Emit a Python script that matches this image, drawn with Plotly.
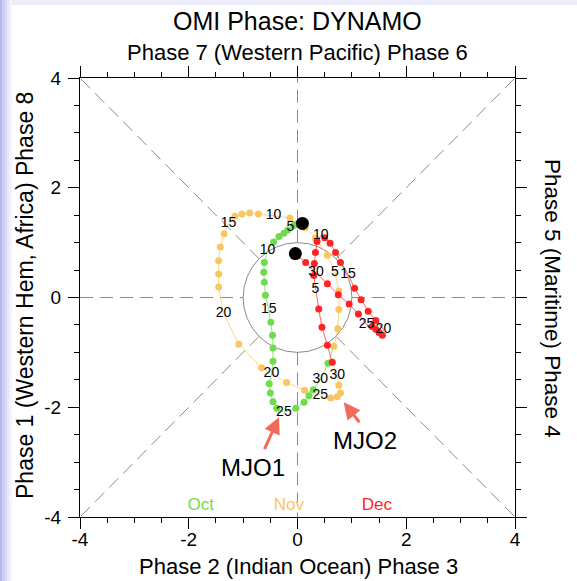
import plotly.graph_objects as go

# ---------------- data ----------------
oct_x = [0.10, 0.04, -0.02, -0.07, -0.13, -0.18, -0.25, -0.34, -0.44, -0.55,
         -0.61, -0.62, -0.61, -0.59, -0.53, -0.49, -0.46, -0.45, -0.45, -0.48,
         -0.52, -0.50, -0.45, -0.38, -0.25, -0.03, 0.12, 0.21, 0.29, 0.42, 0.56]
oct_y = [1.36, 1.35, 1.33, 1.31, 1.28, 1.23, 1.17, 1.11, 1.01, 0.86,
         0.64, 0.46, 0.28, 0.04, -0.21, -0.45, -0.69, -0.92, -1.16, -1.39,
         -1.57, -1.74, -1.90, -2.02, -2.09, -2.02, -1.91, -1.79, -1.68, -1.50, -1.20]
oct_lbl = ["", "", "", "", "5", "", "", "", "", "10",
           "", "", "", "", "15", "", "", "", "", "20",
           "", "", "", "", "25", "", "", "", "", "30", ""]

nov_x = [0.67, 0.74, 0.76, 0.76, 0.69, 0.55, 0.33, 0.14, -0.14, -0.44,
         -0.72, -0.88, -1.02, -1.15, -1.27, -1.35, -1.42, -1.45, -1.45, -1.45,
         -1.36, -1.08, -0.66, -0.20, 0.13, 0.42, 0.61, 0.73, 0.79, 0.76, 0.73]
nov_y = [-0.89, -0.57, -0.22, 0.12, 0.45, 0.77, 1.08, 1.27, 1.45, 1.49,
         1.52, 1.54, 1.52, 1.48, 1.35, 1.16, 0.92, 0.67, 0.43, 0.19,
         -0.30, -0.85, -1.28, -1.55, -1.69, -1.78, -1.83, -1.81, -1.74, -1.60, -1.42]
nov_lbl = ["", "", "", "", "5", "", "", "", "", "10",
           "", "", "", "", "15", "", "", "", "", "",
           "20", "", "", "", "", "25", "", "", "", "", "30"]

dec_x = [0.64, 0.55, 0.45, 0.39, 0.33, 0.30, 0.31, 0.33, 0.36, 0.43,
         0.50, 0.60, 0.70, 0.79, 0.93, 1.05, 1.17, 1.30, 1.44, 1.58,
         1.56, 1.50, 1.44, 1.37, 1.27, 1.12, 0.95, 0.75, 0.55, 0.34, 0.15]
dec_y = [-1.18, -0.87, -0.54, -0.21, 0.15, 0.40, 0.62, 0.82, 1.02, 1.13,
         1.09, 0.99, 0.82, 0.64, 0.42, 0.17, -0.04, -0.25, -0.42, -0.58,
         -0.69, -0.64, -0.58, -0.53, -0.49, -0.30, -0.12, 0.05, 0.25, 0.46, 0.64]
dec_lbl = ["", "", "", "", "5", "", "", "", "", "10",
           "", "", "", "", "15", "", "", "", "", "20",
           "", "", "", "", "25", "", "", "", "", "30", ""]

start_xy = (0.09, 1.35)
end_xy = (-0.04, 0.80)

months = ["Oct", "Nov", "Dec"]
month_colors = ["#6EDC4E", "#FAC660", "#FF2424"]
line_colors = ["rgba(110,220,78,0.75)", "rgba(250,198,96,0.75)", "rgba(255,36,36,0.7)"]
month_label_x = [-1.78, -0.16, 1.46]
month_label_y = -3.79

tick_vals = [-4, -2, 0, 2, 4]
tick_text = ["-4", "-2", "0", "2", "4"]

FONT = "Liberation Sans, Arial, Helvetica, sans-serif"

# ---------------- figure ----------------
fig = go.Figure()

series = [(oct_x, oct_y, oct_lbl), (nov_x, nov_y, nov_lbl), (dec_x, dec_y, dec_lbl)]
nxt = [(nov_x[0], nov_y[0]), (dec_x[0], dec_y[0]), end_xy]

# lines (each month connects to the first point of the next)
for i, (xs, ys, lb) in enumerate(series):
    fig.add_trace(go.Scatter(x=xs + [nxt[i][0]], y=ys + [nxt[i][1]], mode="lines",
                             line=dict(color=line_colors[i], width=1),
                             hoverinfo="skip", showlegend=False))
# markers (non-labelled days)
for i, (xs, ys, lb) in enumerate(series):
    mx = [x for x, l in zip(xs, lb) if l == ""]
    my = [y for y, l in zip(ys, lb) if l == ""]
    fig.add_trace(go.Scatter(x=mx, y=my, mode="markers",
                             marker=dict(color=month_colors[i], size=7, line=dict(width=0)),
                             hoverinfo="skip", showlegend=False))
# day labels
for i, (xs, ys, lb) in enumerate(series):
    tx = [x for x, l in zip(xs, lb) if l != ""]
    ty = [y for y, l in zip(ys, lb) if l != ""]
    tt = [l for l in lb if l != ""]
    fig.add_trace(go.Scatter(x=tx, y=ty, mode="text", text=tt,
                             textfont=dict(family=FONT, size=14, color="black"),
                             hoverinfo="skip", showlegend=False))
# start / end markers
fig.add_trace(go.Scatter(x=[start_xy[0], end_xy[0]], y=[start_xy[1], end_xy[1]], mode="markers",
                         marker=dict(color="black", size=13), hoverinfo="skip", showlegend=False))
# month labels
fig.add_trace(go.Scatter(x=month_label_x, y=[month_label_y] * 3, mode="text", text=months,
                         textfont=dict(family=FONT, size=17, color=month_colors),
                         hoverinfo="skip", showlegend=False))

# ---------------- phase-space guides ----------------
shapes = []
r = 2 ** -0.5
dash = "13px,7px"
gray = "#8a8a8a"
for (x0, y0, x1, y1) in [(-4, 0, -1, 0), (1, 0, 4, 0), (0, 1, 0, 4), (0, -1, 0, -4),
                         (r, r, 4, 4), (-r, r, -4, 4), (r, -r, 4, -4), (-r, -r, -4, -4)]:
    shapes.append(dict(type="line", xref="x", yref="y", x0=x0, y0=y0, x1=x1, y1=y1,
                       line=dict(color=gray, width=1, dash=dash), layer="below"))
shapes.append(dict(type="circle", xref="x", yref="y", x0=-1, y0=-1, x1=1, y1=1,
                   line=dict(color="#8a8a8a", width=1), layer="below"))

# lavender page border
def px2x(p):
    return (p - 80) / 435.0

def py2y(p):
    return (517 - p) / 439.0

left_cols = ["#B6B6EE", "#C6C6F2", "#D6D6F6", "#E6E6FA", "#F3F3FD"]
for k, c in enumerate(left_cols):
    shapes.append(dict(type="rect", xref="paper", yref="paper",
                       x0=px2x(k * 2.4), x1=px2x((k + 1) * 2.4), y0=py2y(581), y1=py2y(0),
                       fillcolor=c, line=dict(width=0), layer="below"))
shapes.append(dict(type="rect", xref="paper", yref="paper",
                   x0=px2x(12), x1=px2x(577), y0=py2y(5), y1=py2y(0),
                   fillcolor="#ECECFA", line=dict(width=0), layer="below"))

annotations = [
    dict(text="OMI Phase: DYNAMO", x=px2x(297), y=py2y(21), xref="paper", yref="paper",
         showarrow=False, font=dict(family=FONT, size=25, color="black"), yanchor="middle"),
    dict(text="Phase 7 (Western Pacific) Phase 6", x=px2x(297), y=py2y(52), xref="paper", yref="paper",
         showarrow=False, font=dict(family=FONT, size=22, color="black"), yanchor="middle"),
    dict(text="Phase 2 (Indian Ocean) Phase 3", x=px2x(298), y=py2y(566), xref="paper", yref="paper",
         showarrow=False, font=dict(family=FONT, size=22, color="black"), yanchor="middle"),
    dict(text="Phase 1 (Western Hem, Africa) Phase 8", x=px2x(25), y=py2y(296), xref="paper", yref="paper",
         showarrow=False, textangle=-90, font=dict(family=FONT, size=23, color="black"),
         xanchor="center", yanchor="middle"),
    dict(text="Phase 5 (Maritime) Phase 4", x=px2x(553), y=py2y(298), xref="paper", yref="paper",
         showarrow=False, textangle=90, font=dict(family=FONT, size=22.5, color="black"),
         xanchor="center", yanchor="middle"),
    dict(text="MJO1", x=-0.81, y=-3.10, xref="x", yref="y", showarrow=False,
         font=dict(family=FONT, size=24, color="black")),
    dict(text="MJO2", x=1.25, y=-2.60, xref="x", yref="y", showarrow=False,
         font=dict(family=FONT, size=24, color="black")),
    dict(text="", x=-0.34, y=-2.18, ax=-0.62, ay=-2.79, xref="x", yref="y", axref="x", ayref="y",
         showarrow=True, arrowhead=2, arrowsize=1.1, arrowwidth=3, arrowcolor="#F26A5A"),
    dict(text="", x=0.85, y=-1.91, ax=1.16, ay=-2.30, xref="x", yref="y", axref="x", ayref="y",
         showarrow=True, arrowhead=2, arrowsize=1.1, arrowwidth=3, arrowcolor="#F26A5A"),
]

axis_common = dict(range=[-4, 4], tickvals=tick_vals, ticktext=tick_text,
                   ticks="outside", ticklen=11, tickwidth=1, tickcolor="black",
                   showline=True, linecolor="black", linewidth=1, mirror="allticks",
                   showgrid=False, zeroline=False, fixedrange=True,
                   tickfont=dict(family=FONT, size=19, color="black"),
                   minor=dict(dtick=0.5, tick0=0, ticks="outside", ticklen=5,
                              tickcolor="black", tickwidth=1, showgrid=False))

fig.update_layout(
    width=577, height=581,
    margin=dict(l=80, r=62, t=78, b=64),
    paper_bgcolor="white", plot_bgcolor="white",
    xaxis=dict(axis_common, ticklabelstandoff=-6),
    yaxis=dict(axis_common, ticklabelstandoff=3),
    shapes=shapes, annotations=annotations,
    showlegend=False, hovermode=False,
)

fig.write_html("out.html", config={"displayModeBar": False, "staticPlot": True},
               post_script="document.body.style.margin='0px';")
